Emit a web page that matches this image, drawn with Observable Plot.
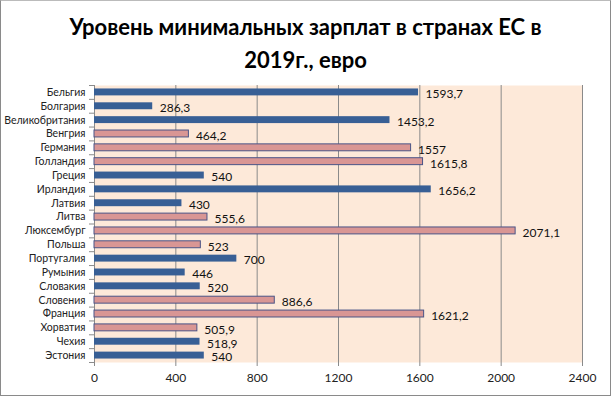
<!DOCTYPE html>
<html>
<head>
<meta charset="utf-8">
<script src="https://cdn.jsdelivr.net/npm/d3@7"></script>
<script src="https://cdn.jsdelivr.net/npm/@observablehq/plot@0.6"></script>
<style>
  html, body { margin: 0; padding: 0; background: #fff; }
  #chart { position: relative; width: 611px; height: 396px; border: 1px solid #8a8a8a; border-top-color: #bbb; box-sizing: border-box; overflow: hidden; font-family: Lato, "Open Sans", sans-serif; }
  #title { position: absolute; left: 0; top: 9px; width: 100%; text-align: center; font-weight: bold; font-size: 22px; line-height: 33px; color: #000; }
  #plot { position: absolute; left: 0; top: 74px; }
</style>
</head>
<body>
<div id="chart">
  <div id="title">Уровень минимальных зарплат в странах ЕС в<br>2019г., евро</div>
  <div id="plot"></div>
</div>
<script>
const countries = ["Бельгия","Болгария","Великобритания","Венгрия","Германия","Голландия","Греция","Ирландия","Латвия","Литва","Люксембург","Польша","Португалия","Румыния","Словакия","Словения","Франция","Хорватия","Чехия","Эстония"];
const wages = [1593.7, 286.3, 1453.2, 464.2, 1557, 1615.8, 540, 1656.2, 430, 555.6, 2071.1, 523, 700, 446, 520, 886.6, 1621.2, 505.9, 518.9, 540];
const groups = ["b","b","b","p","p","p","b","b","b","p","p","p","b","b","b","p","p","p","b","b"];
const xTicks = [0, 400, 800, 1200, 1600, 2000, 2400];

const data = countries.map((c, i) => ({country: c, wage: wages[i], group: groups[i]}));
const fmt = v => String(v).replace(".", ",");

const width = 609, height = 320;
const marginTop = 10, marginBottom = 33, marginLeft = 93, marginRight = 28;
const step = (height - marginTop - marginBottom) / countries.length;

const chart = Plot.plot({
  width, height, marginTop, marginBottom, marginLeft, marginRight,
  style: {fontFamily: "Lato, 'Open Sans', sans-serif", color: "#222", background: "transparent"},
  x: {domain: [0, 2400], ticks: xTicks},
  y: {domain: countries, paddingInner: 0.5, paddingOuter: 0.25, round: false},
  color: {domain: ["b", "p"], range: ["#385F95", "#D99694"]},
  marks: [
    Plot.frame({fill: "#FDE9D9", stroke: null}),
    Plot.gridX(xTicks.slice(1), {stroke: "#8a8a8a", strokeOpacity: 1, strokeWidth: 1}),
    Plot.axisX({ticks: xTicks, tickSize: 4, tickPadding: 7, fontSize: 12, stroke: "#8a8a8a", label: null, tickFormat: d => String(d)}),
    Plot.axisY({tickSize: 0, tickPadding: 9, fontSize: 10.5, label: null}),
    Plot.ruleX([0], {stroke: "#8a8a8a", insetBottom: -4}),
    Plot.ruleY(countries, {y: d => d, x1: 0, x2: 0, insetLeft: -5, dy: -step / 2, stroke: "#8a8a8a"}),
    Plot.ruleY(countries.slice(-1), {y: d => d, x1: 0, x2: 0, insetLeft: -5, dy: step / 2, stroke: "#8a8a8a"}),
    Plot.barX(data, {x: "wage", y: "country", fill: "group", stroke: d => d.group === "p" ? "#4A5487" : "none", strokeWidth: 1}),
    Plot.text(data, {x: "wage", y: "country", text: d => fmt(d.wage), textAnchor: "start", dx: 7, dy: 2, fontSize: 12, fill: "#111"})
  ]
});
document.getElementById("plot").appendChild(chart);
</script>
</body>
</html>
